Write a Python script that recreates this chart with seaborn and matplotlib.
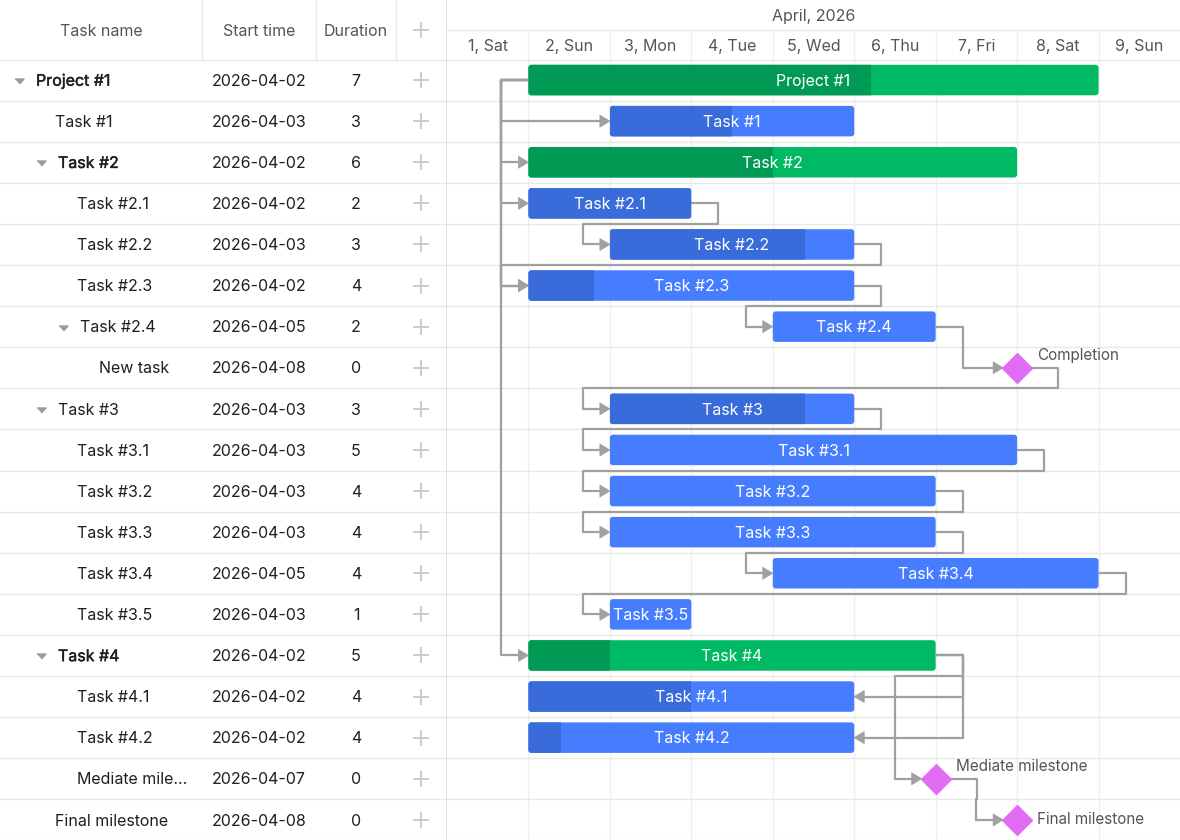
import numpy as np
import pandas as pd
import matplotlib
matplotlib.use("Agg")
import matplotlib.pyplot as plt
import seaborn as sns
from matplotlib.patches import FancyBboxPatch, Rectangle, Polygon
import matplotlib.patheffects as pe

# ---------------- data ----------------
task_names = ["Project #1", "Task #1", "Task #2", "Task #2.1", "Task #2.2", "Task #2.3",
              "Task #2.4", "New task", "Task #3", "Task #3.1", "Task #3.2", "Task #3.3",
              "Task #3.4", "Task #3.5", "Task #4", "Task #4.1", "Task #4.2",
              "Mediate milestone", "Final milestone"]
grid_labels = ["Project #1", "Task #1", "Task #2", "Task #2.1", "Task #2.2", "Task #2.3",
               "Task #2.4", "New task", "Task #3", "Task #3.1", "Task #3.2", "Task #3.3",
               "Task #3.4", "Task #3.5", "Task #4", "Task #4.1", "Task #4.2",
               "Mediate mile...", "Final milestone"]
start_dates = ["2026-04-02", "2026-04-03", "2026-04-02", "2026-04-02", "2026-04-03", "2026-04-02",
               "2026-04-05", "2026-04-08", "2026-04-03", "2026-04-03", "2026-04-03", "2026-04-03",
               "2026-04-05", "2026-04-03", "2026-04-02", "2026-04-02", "2026-04-02",
               "2026-04-07", "2026-04-08"]
durations = [7, 3, 6, 2, 3, 4, 2, 0, 3, 5, 4, 4, 4, 1, 5, 4, 4, 0, 0]
progress = [0.6, 0.5, 0.5, 1.0, 0.8, 0.2, 0.0, 0.0, 0.8, 0.0, 0.0, 0.0, 0.0, 0.0, 0.2, 0.5, 0.1, 0.0, 0.0]
levels = [0, 1, 1, 2, 2, 2, 2, 3, 1, 2, 2, 2, 2, 2, 1, 2, 2, 2, 1]
kinds = ["project", "task", "project", "task", "task", "task", "task", "milestone", "task",
         "task", "task", "task", "task", "task", "project", "task", "task", "milestone", "milestone"]
has_children = [True, False, True, False, False, False, True, False, True, False, False, False,
                False, False, True, False, False, False, False]
milestone_texts = {"New task": "Completion", "Mediate milestone": "Mediate milestone",
                   "Final milestone": "Final milestone"}
links_src = ["Project #1", "Project #1", "Project #1", "Project #1", "Project #1",
             "Task #2.1", "Task #2.2", "Task #2.3", "Task #2.4", "New task", "Task #3",
             "Task #3.1", "Task #3.2", "Task #3.3", "Task #3.4", "Task #4", "Task #4",
             "Task #4", "Mediate milestone"]
links_tgt = ["Task #1", "Task #2", "Task #2.1", "Task #2.3", "Task #4",
             "Task #2.2", "Task #2.3", "Task #2.4", "New task", "Task #3", "Task #3.1",
             "Task #3.2", "Task #3.3", "Task #3.4", "Task #3.5", "Task #4.1", "Task #4.2",
             "Mediate milestone", "Final milestone"]
links_type = ["ss", "ss", "ss", "ss", "ss",
              "fs", "fs", "fs", "fs", "fs", "fs", "fs", "fs", "fs", "fs", "ff", "ff", "fs", "fs"]
day_labels = ["1, Sat", "2, Sun", "3, Mon", "4, Tue", "5, Wed", "6, Thu", "7, Fri", "8, Sat", "9, Sun"]
month_label = "April, 2026"
table_headers = ["Task name", "Start time", "Duration", "+"]

# ---------------- style ----------------
sns.set_theme(style="white")
plt.rcParams['font.family'] = ['Inter', 'DejaVu Sans']

W, H = 1180, 840
LEFT_W = 447
HEADER_H = 59.5
ROW_H = 41.1
DAY_W = (W - LEFT_W) / 9.0

C_GREEN = "#00b964"
C_GREEN_D = "#009a55"
C_BLUE = "#467dff"
C_BLUE_D = "#3a6bdb"
C_MILE = "#df6cf2"
C_LINK = "#a0a0a0"
C_GRID = "#e8e8e8"
C_SEP = "#dadada"
C_HEAD = "#555555"
C_TEXT = "#1f1f1f"
FS = 11.5

df = pd.DataFrame({"name": task_names, "label": grid_labels, "start": pd.to_datetime(start_dates),
                   "dur": durations, "prog": progress, "level": levels, "kind": kinds,
                   "children": has_children})
df["row"] = np.arange(len(df))
df["x0"] = (df["start"] - pd.Timestamp("2026-04-01")).dt.days + 1.0
df["x1"] = df["x0"] + df["dur"]
df["yc"] = df["row"] + 0.5
idx = {n: i for i, n in enumerate(task_names)}

fig = plt.figure(figsize=(W / 100, H / 100), dpi=100)
fig.patch.set_facecolor("white")

bold_fx = [pe.withStroke(linewidth=0.3, foreground=C_TEXT)]

# ---------------- left table ----------------
axL = fig.add_axes([0, 0, LEFT_W / W, 1])
axL.set_xlim(0, LEFT_W)
axL.set_ylim(H, 0)
axL.axis("off")

col_div = [202, 316, 396]
for xv in col_div:
    axL.plot([xv, xv], [0, HEADER_H], color=C_GRID, lw=1, zorder=1)
axL.plot([446.5, 446.5], [0, H], color=C_SEP, lw=1.2, zorder=2)
for i in range(len(df) + 1):
    yv = HEADER_H + ROW_H * i
    axL.plot([0, LEFT_W], [yv, yv], color=C_GRID, lw=1, zorder=1)

hdr_x = [101, 259, 356]
for xh, t in zip(hdr_x, table_headers[:3]):
    axL.text(xh, HEADER_H / 2 + 2, t, ha="center", va="center", fontsize=FS, color=C_HEAD)
axL.plot([421], [HEADER_H / 2], marker="+", ms=11, mew=1.3, color="#c8c8c8", ls="none")

tri = [(-1, 0.55), (1, 0.55), (0, -0.55)]
for _, r in df.iterrows():
    yc = HEADER_H + ROW_H * r["row"] + ROW_H / 2
    xname = 33 + 22 * r["level"] + (3 if r["children"] else 0)
    fx = bold_fx if r["kind"] == "project" else None
    ty = yc + 1.2
    axL.text(xname, ty, r["label"], ha="left", va="center", fontsize=FS, color=C_TEXT, path_effects=fx)
    axL.text(259, ty, r["start"].strftime("%Y-%m-%d"), ha="center", va="center", fontsize=FS,
             color=C_TEXT)
    axL.text(356, ty, str(r["dur"]), ha="center", va="center", fontsize=FS, color=C_TEXT)
    axL.plot([421], [yc], marker="+", ms=11, mew=1.3, color="#c8c8c8", ls="none")
    if r["children"]:
        axL.plot([19 + 22 * r["level"]], [yc + 1], marker=tri, ms=6.5, color="#9a9a9a", ls="none")

# ---------------- chart ----------------
axC = fig.add_axes([LEFT_W / W, 0, 1 - LEFT_W / W, 1])
ytop = -HEADER_H / ROW_H
ybot = (H - HEADER_H) / ROW_H
axC.set_xlim(1, 10)
axC.set_ylim(ybot, ytop)
axC.axis("off")

px_x = 1.0 / DAY_W      # day per pixel
px_y = 1.0 / ROW_H      # row per pixel
month_line = (30 - HEADER_H) / ROW_H

axC.plot([1, 10], [month_line, month_line], color=C_GRID, lw=1, zorder=1)
for d in range(2, 10):
    axC.plot([d, d], [month_line, ybot], color="#efefef", lw=1, zorder=1)
for i in range(len(df) + 1):
    axC.plot([1, 10], [i, i], color=C_GRID, lw=1, zorder=1)
axC.text(5.5, (17 - HEADER_H) / ROW_H, month_label, ha="center", va="center", fontsize=FS, color=C_HEAD)
for k, lab in enumerate(day_labels):
    axC.text(1.5 + k, (47 - HEADER_H) / ROW_H, lab, ha="center", va="center", fontsize=FS, color=C_HEAD)

bar_h = 30.5 / ROW_H
rad = 3 * px_x
asp = DAY_W / ROW_H
half_m = 14 * px_x

for _, r in df[df["kind"] != "milestone"].iterrows():
    light = C_GREEN if r["kind"] == "project" else C_BLUE
    dark = C_GREEN_D if r["kind"] == "project" else C_BLUE_D
    y0 = r["yc"] - bar_h / 2
    w = r["dur"]
    base = FancyBboxPatch((r["x0"], y0), w, bar_h, boxstyle=f"round,pad=0,rounding_size={rad}",
                          mutation_aspect=asp, fc=light, ec="none", zorder=4)
    axC.add_patch(base)
    if r["prog"] > 0:
        dpatch = FancyBboxPatch((r["x0"], y0), w, bar_h, boxstyle=f"round,pad=0,rounding_size={rad}",
                                mutation_aspect=asp, fc=dark, ec="none", zorder=5)
        axC.add_patch(dpatch)
        clip = Rectangle((r["x0"], y0 - 0.1), w * r["prog"], bar_h + 0.2, transform=axC.transData)
        dpatch.set_clip_path(clip)
    axC.text(r["x0"] + w / 2, r["yc"] + 1.2 * px_y, r["name"], ha="center", va="center", fontsize=FS,
             color="white", zorder=6)


def edge(n, which):
    r = df.loc[idx[n]]
    if r["kind"] == "milestone":
        return r["x0"] - half_m if which == "start" else r["x0"] + half_m
    return r["x0"] if which == "start" else r["x1"]


gap = 27 * px_x
head_l = 10 * px_x
head_w = 6 * px_y
for s, t, typ in zip(links_src, links_tgt, links_type):
    sy = df.loc[idx[s], "yc"]
    ty = df.loc[idx[t], "yc"]
    if typ == "ss":
        x0, x1 = edge(s, "start"), edge(t, "start")
        a = x0 - gap
        pts = [(x0, sy), (a, sy), (a, ty), (x1, ty)]
        direction = 1
    elif typ == "ff":
        x0, x1 = edge(s, "end"), edge(t, "end")
        a = x0 + gap
        pts = [(x0, sy), (a, sy), (a, ty), (x1, ty)]
        direction = -1
    else:
        x0, x1 = edge(s, "end"), edge(t, "start")
        a, b = x0 + gap, x1 - gap
        if a <= b:
            pts = [(x0, sy), (a, sy), (a, ty), (x1, ty)]
        else:
            yb = df.loc[idx[s], "row"] + 1
            pts = [(x0, sy), (a, sy), (a, yb), (b, yb), (b, ty), (x1, ty)]
        direction = 1
    tipx, tipy = pts[-1]
    basex = tipx - direction * head_l
    pts[-1] = (basex, tipy)
    xs, ys = zip(*pts)
    axC.plot(xs, ys, color=C_LINK, lw=1.6, solid_joinstyle="round", solid_capstyle="butt", zorder=2)
    axC.add_patch(Polygon([(tipx, tipy), (basex, tipy - head_w), (basex, tipy + head_w)],
                          closed=True, fc=C_LINK, ec=C_LINK, lw=0.5, joinstyle="round", zorder=3))

ms_df = df[df["kind"] == "milestone"]
sns.scatterplot(data=ms_df, x="x0", y="yc", marker="D", s=230, color=C_MILE, edgecolor=C_MILE,
                linewidth=1.0, ax=axC, legend=False, zorder=7)
for _, r in ms_df.iterrows():
    last = r["row"] == len(df) - 1
    dy = 0 if last else -12 * px_y
    axC.text(r["x0"] + 20 * px_x, r["yc"] + dy, milestone_texts[r["name"]], ha="left", va="center",
             fontsize=11, color=C_HEAD, zorder=7)
axC.set_xlim(1, 10)
axC.set_ylim(ybot, ytop)
axC.axis("off")

fig.savefig("out.png", dpi=100, facecolor="white")
